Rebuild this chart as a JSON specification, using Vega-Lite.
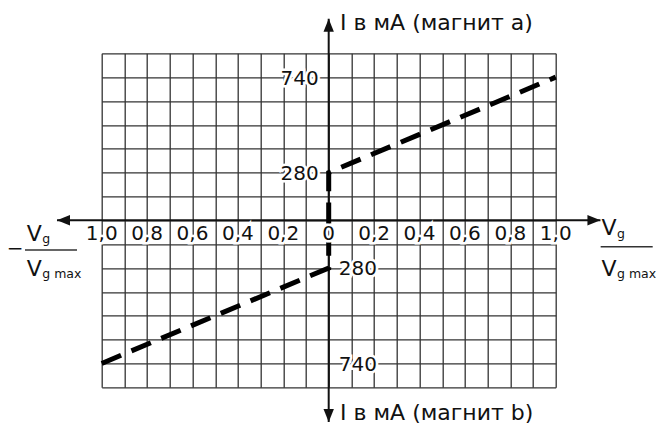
{
  "$schema": "https://vega.github.io/schema/vega-lite/v6.json",
  "width": 454,
  "height": 334,
  "autosize": {"type": "none"},
  "padding": {"left": 101.7, "top": 53.3, "right": 100.3, "bottom": 38.7},
  "background": "white",
  "config": {"view": {"stroke": null}, "font": "DejaVu Sans"},
  "datasets": {
    "axes": [
      {"x": -1.197, "x2": 1.197, "y": 0, "y2": 0},
      {"x": 0, "x2": 0, "y": -1022, "y2": 1022}
    ],
    "tips": [
      {"x": 0, "y": 1022, "dir": "up"},
      {"x": 0, "y": -1022, "dir": "down"},
      {"x": -1.197, "y": 0, "dir": "left"},
      {"x": 1.197, "y": 0, "dir": "right"}
    ],
    "curve": [
      {"x": -1, "y": -740, "o": 1},
      {"x": 0, "y": -280, "o": 2},
      {"x": 0, "y": 280, "o": 3},
      {"x": 1, "y": 740, "o": 4}
    ],
    "xlab": [
      {"x": -1, "y": 0, "t": "1,0"},
      {"x": -0.8, "y": 0, "t": "0,8"},
      {"x": -0.6, "y": 0, "t": "0,6"},
      {"x": -0.4, "y": 0, "t": "0,4"},
      {"x": -0.2, "y": 0, "t": "0,2"},
      {"x": 0, "y": 0, "t": "0"},
      {"x": 0.2, "y": 0, "t": "0,2"},
      {"x": 0.4, "y": 0, "t": "0,4"},
      {"x": 0.6, "y": 0, "t": "0,6"},
      {"x": 0.8, "y": 0, "t": "0,8"},
      {"x": 1, "y": 0, "t": "1,0"}
    ],
    "ylab": [
      {"x": 0, "y": 740, "t": "740", "side": "l"},
      {"x": 0, "y": 280, "t": "280", "side": "l"},
      {"x": 0, "y": -280, "t": "280", "side": "r"},
      {"x": 0, "y": -740, "t": "740", "side": "r"}
    ],
    "titles": [
      {"x": 0.05, "y": 967, "t": "I в мА (магнит а)"},
      {"x": 0.05, "y": -1013, "t": "I в мА (магнит b)"}
    ],
    "fracV": [
      {"x": -1.3304, "y": -121.5, "t": "V"},
      {"x": -1.3304, "y": -318.5, "t": "V"},
      {"x": 1.2018, "y": -86.3, "t": "V"},
      {"x": 1.2018, "y": -318.5, "t": "V"}
    ],
    "fracSub": [
      {"x": -1.262, "y": -133.2, "t": "g"},
      {"x": -1.262, "y": -328.2, "t": "g max"},
      {"x": 1.27, "y": -103.9, "t": "g"},
      {"x": 1.27, "y": -328.2, "t": "g max"}
    ],
    "fracBar": [
      {"x": -1.3379, "x2": -1.1088, "y": -174.3},
      {"x": 1.198, "x2": 1.4273, "y": -154.9}
    ],
    "minus": [
      {"x": -1.3819, "y": -202.5, "t": "−"}
    ]
  },
  "encoding": {
    "x": {
      "field": "x",
      "type": "quantitative",
      "scale": {"domain": [-1, 1], "nice": false, "zero": false},
      "axis": {
        "values": [-1, -0.9, -0.8, -0.7, -0.6, -0.5, -0.4, -0.3, -0.2, -0.1, 0, 0.1, 0.2, 0.3, 0.4, 0.5, 0.6, 0.7, 0.8, 0.9, 1],
        "grid": true, "gridColor": "#333333", "gridWidth": 1.3, "gridOpacity": 1,
        "labels": false, "ticks": false, "domain": false, "title": null
      }
    },
    "y": {
      "field": "y",
      "type": "quantitative",
      "scale": {
        "domain": [-855, -280, 0, 280, 855],
        "range": [334, 214.71, 167, 119.29, 0],
        "nice": false,
        "zero": false
      },
      "axis": {
        "values": [855, 740, 625, 510, 395, 280, 140, 0, -140, -280, -395, -510, -625, -740, -855],
        "grid": true, "gridColor": "#333333", "gridWidth": 1.3, "gridOpacity": 1,
        "labels": false, "ticks": false, "domain": false, "title": null
      }
    }
  },
  "layer": [
    {
      "data": {"name": "axes"},
      "mark": {"type": "rule", "color": "#111111", "strokeWidth": 2},
      "encoding": {"x2": {"field": "x2"}, "y2": {"field": "y2"}}
    },
    {
      "data": {"name": "curve"},
      "mark": {"type": "line", "color": "#000000", "strokeWidth": 5, "strokeDash": [21, 11.3], "strokeCap": "butt"},
      "encoding": {"order": {"field": "o", "type": "quantitative"}}
    },
    {
      "data": {"name": "xlab"},
      "mark": {"type": "text", "fontSize": 20, "align": "center", "baseline": "alphabetic", "dy": 20, "color": "white", "stroke": "white", "strokeWidth": 5},
      "encoding": {"text": {"field": "t"}}
    },
    {
      "data": {"name": "xlab"},
      "mark": {"type": "text", "fontSize": 20, "align": "center", "baseline": "alphabetic", "dy": 20, "color": "#111111"},
      "encoding": {"text": {"field": "t"}}
    },
    {
      "data": {"name": "ylab"},
      "transform": [{"filter": "datum.side === 'l'"}],
      "mark": {"type": "text", "fontSize": 20, "align": "right", "baseline": "alphabetic", "dx": -10, "dy": 7.5, "color": "white", "stroke": "white", "strokeWidth": 5},
      "encoding": {"text": {"field": "t"}}
    },
    {
      "data": {"name": "ylab"},
      "transform": [{"filter": "datum.side === 'l'"}],
      "mark": {"type": "text", "fontSize": 20, "align": "right", "baseline": "alphabetic", "dx": -10, "dy": 7.5, "color": "#111111"},
      "encoding": {"text": {"field": "t"}}
    },
    {
      "data": {"name": "ylab"},
      "transform": [{"filter": "datum.side === 'r'"}],
      "mark": {"type": "text", "fontSize": 20, "align": "left", "baseline": "alphabetic", "dx": 10, "dy": 7.3, "color": "white", "stroke": "white", "strokeWidth": 5},
      "encoding": {"text": {"field": "t"}}
    },
    {
      "data": {"name": "ylab"},
      "transform": [{"filter": "datum.side === 'r'"}],
      "mark": {"type": "text", "fontSize": 20, "align": "left", "baseline": "alphabetic", "dx": 10, "dy": 7.3, "color": "#111111"},
      "encoding": {"text": {"field": "t"}}
    },
    {
      "data": {"name": "tips"},
      "mark": {"type": "point", "filled": true, "color": "#111111", "opacity": 1, "size": 169, "strokeWidth": 0},
      "encoding": {
        "shape": {
          "field": "dir",
          "type": "nominal",
          "scale": {
            "domain": ["up", "down", "left", "right"],
            "range": ["M0,0L0.8,2L-0.8,2Z", "M0,0L0.8,-2L-0.8,-2Z", "M0,0L2,-0.8L2,0.8Z", "M0,0L-2,-0.8L-2,0.8Z"]
          },
          "legend": null
        }
      }
    },
    {
      "data": {"name": "titles"},
      "mark": {"type": "text", "fontSize": 22, "align": "left", "baseline": "alphabetic", "color": "#111111"},
      "encoding": {"text": {"field": "t"}}
    },
    {
      "data": {"name": "fracBar"},
      "mark": {"type": "rule", "color": "#333333", "strokeWidth": 1.5},
      "encoding": {"x2": {"field": "x2"}}
    },
    {
      "data": {"name": "fracV"},
      "mark": {"type": "text", "fontSize": 22, "align": "left", "baseline": "alphabetic", "color": "#111111"},
      "encoding": {"text": {"field": "t"}}
    },
    {
      "data": {"name": "fracSub"},
      "mark": {"type": "text", "fontSize": 12.5, "align": "left", "baseline": "alphabetic", "color": "#111111"},
      "encoding": {"text": {"field": "t"}}
    },
    {
      "data": {"name": "minus"},
      "mark": {"type": "text", "fontSize": 20, "align": "center", "baseline": "alphabetic", "color": "#111111"},
      "encoding": {"text": {"field": "t"}}
    }
  ]
}
